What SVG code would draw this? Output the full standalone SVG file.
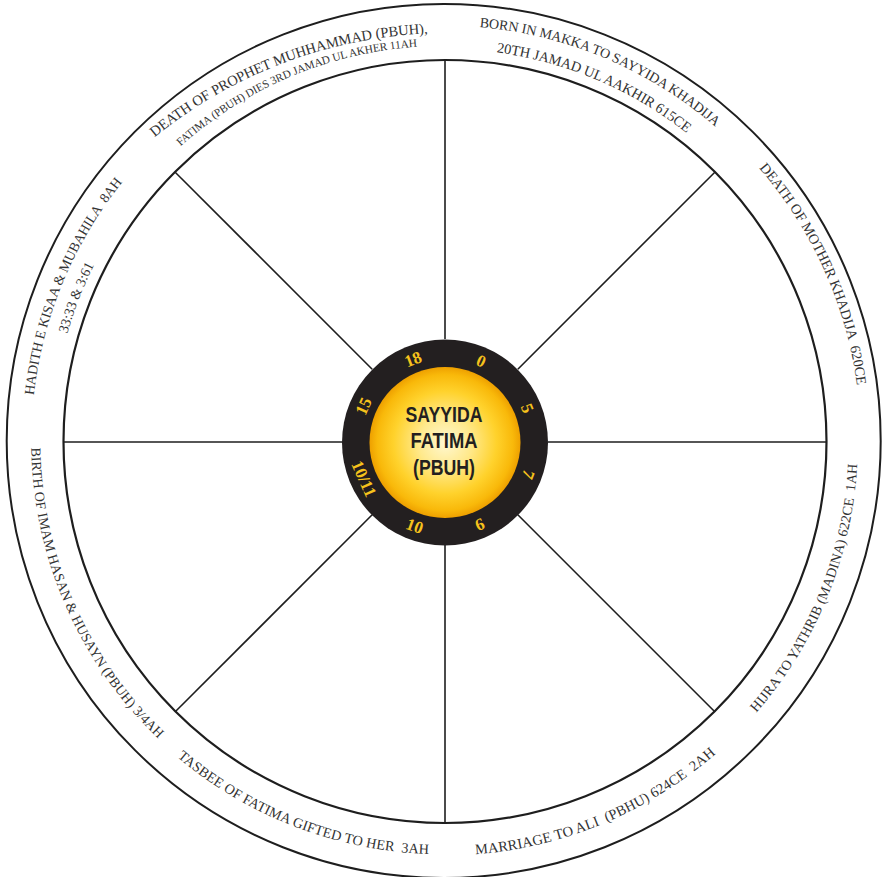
<svg xmlns="http://www.w3.org/2000/svg" xmlns:xlink="http://www.w3.org/1999/xlink" width="883" height="877" viewBox="0 0 883 877">
<style>
.ring{fill:none;stroke:#1e1e1e}
.spoke{stroke:#1e1e1e;stroke-width:1.6;fill:none}
.lbl{font-family:"Liberation Serif","Times New Roman",serif;fill:#333;dominant-baseline:central}
.num{font-family:"Liberation Serif","Times New Roman",serif;font-weight:bold;font-size:17px;fill:#f6c21c;text-anchor:middle;dominant-baseline:central}
.ctr{font-family:"Liberation Sans",Arial,sans-serif;font-weight:bold;font-size:21.5px;fill:#231f20;text-anchor:middle}
</style>
<defs>
<radialGradient id="gold" cx="50%" cy="50%" r="50%">
<stop offset="0%" stop-color="#fff8d2"/>
<stop offset="35%" stop-color="#ffe98c"/>
<stop offset="68%" stop-color="#ffd22c"/>
<stop offset="90%" stop-color="#f9b90a"/>
<stop offset="100%" stop-color="#eea000"/>
</radialGradient>
<path id="p1a" d="M66.3,223.8 A470,470 0 0 1 551.3,39.5"/>
<path id="p1b" d="M88.8,258.5 A399,399 0 0 1 561.7,59.7"/>
<path id="p2a" d="M320.1,39.1 A420.4,420.4 0 0 1 817.9,249.4"/>
<path id="p2b" d="M327.6,61.1 A397.2,397.2 0 0 1 797.6,260.6"/>
<path id="p3" d="M627,60.8 A422,422 0 0 1 849.9,555.4"/>
<path id="p4" d="M635.2,802.6 A409.2,409.2 0 0 0 833.1,315.1"/>
<path id="p5" d="M321.9,832 A409.6,409.6 0 0 0 807.7,628.7"/>
<path id="p6" d="M86.1,638.3 A408.4,408.4 0 0 0 576,827.3"/>
<path id="p7" d="M52.8,325.9 A407.5,407.5 0 0 0 262.5,805.9"/>
<path id="p8a" d="M45.4,565.7 A417.4,417.4 0 0 1 251.6,70.3"/>
<path id="p8b" d="M68.3,568 A396.3,396.3 0 0 1 253.4,93.3"/>
</defs>
<rect width="883" height="877" fill="#fff"/>
<g id="outer-ring">
<circle class="ring" cx="443.7" cy="440.9" r="437" stroke-width="2"/>
<circle class="ring" cx="445" cy="441.5" r="381.5" stroke-width="2.2"/>
</g>
<g id="connectors">
<line class="spoke" x1="445" y1="339" x2="445" y2="60.5"/>
<line class="spoke" x1="517.8" y1="369.2" x2="714.8" y2="172.2"/>
<line class="spoke" x1="548" y1="442" x2="826.5" y2="442"/>
<line class="spoke" x1="517.8" y1="514.8" x2="714.8" y2="711.8"/>
<line class="spoke" x1="445" y1="545" x2="445" y2="823.5"/>
<line class="spoke" x1="372.2" y1="514.8" x2="175.2" y2="711.8"/>
<line class="spoke" x1="342" y1="442" x2="63.5" y2="442"/>
<line class="spoke" x1="372.2" y1="369.2" x2="175.2" y2="172.2"/>
</g>
<g id="hub">
<circle cx="445" cy="442.5" r="103" fill="#231f20"/>
<circle cx="445" cy="442.5" r="75.5" fill="url(#gold)"/>
<text class="ctr" x="444" y="421.5" textLength="77" lengthAdjust="spacingAndGlyphs">SAYYIDA</text>
<text class="ctr" x="444" y="447.5" textLength="67" lengthAdjust="spacingAndGlyphs">FATIMA</text>
<text class="ctr" x="444" y="475" textLength="62" lengthAdjust="spacingAndGlyphs">(PBUH)</text>
</g>
<g id="hub-numbers">
<text class="num" x="445" y="353.5" transform="rotate(24 445 442.5)">0</text>
<text class="num" x="445" y="353.5" transform="rotate(67.5 445 442.5)">5</text>
<text class="num" x="445" y="353.5" transform="rotate(111 445 442.5)">7</text>
<text class="num" x="445" y="353.5" transform="rotate(157 445 442.5)">9</text>
<text class="num" x="445" y="531.5" transform="rotate(20 445 442.5)">10</text>
<text class="num" x="445" y="531.5" transform="rotate(66 445 442.5)">10/11</text>
<text class="num" x="445" y="353.5" transform="rotate(294 445 442.5)">15</text>
<text class="num" x="445" y="353.5" transform="rotate(339 445 442.5)">18</text>
</g>
<g id="event-death-prophet">
<text class="lbl" font-size="14.6" text-anchor="middle" xml:space="preserve"><textPath xlink:href="#p1a" href="#p1a" startOffset="50%">DEATH OF PROPHET MUHHAMMAD (PBUH),</textPath></text>
<text class="lbl" font-size="11.3" text-anchor="middle" xml:space="preserve"><textPath xlink:href="#p1b" href="#p1b" startOffset="50%">FATIMA (PBUH) DIES 3RD JAMAD UL AKHER 11AH</textPath></text>
</g>
<g id="event-born">
<text class="lbl" font-size="14" text-anchor="middle" xml:space="preserve"><textPath xlink:href="#p2a" href="#p2a" startOffset="50%">BORN IN MAKKA TO SAYYIDA KHADIJA</textPath></text>
<text class="lbl" font-size="14.4" text-anchor="middle" xml:space="preserve"><textPath xlink:href="#p2b" href="#p2b" startOffset="50%">20TH JAMAD UL AAKHIR 615CE</textPath></text>
</g>
<g id="event-death-mother">
<text class="lbl" font-size="14.3" text-anchor="middle" xml:space="preserve"><textPath xlink:href="#p3" href="#p3" startOffset="50%">DEATH OF MOTHER KHADIJA  620CE</textPath></text>
</g>
<g id="event-hijra">
<text class="lbl" font-size="14" text-anchor="middle" xml:space="preserve"><textPath xlink:href="#p4" href="#p4" startOffset="50%">HIJRA TO YATHRIB (MADINA) 622CE  1AH</textPath></text>
</g>
<g id="event-marriage">
<text class="lbl" font-size="14.5" text-anchor="middle" xml:space="preserve"><textPath xlink:href="#p5" href="#p5" startOffset="50%">MARRIAGE TO ALI  (PBHU) 624CE  2AH</textPath></text>
</g>
<g id="event-tasbee">
<text class="lbl" font-size="14.2" text-anchor="middle" xml:space="preserve"><textPath xlink:href="#p6" href="#p6" startOffset="50%">TASBEE OF FATIMA GIFTED TO HER  3AH</textPath></text>
</g>
<g id="event-birth-hasan-husayn">
<text class="lbl" font-size="13.9" text-anchor="middle" xml:space="preserve"><textPath xlink:href="#p7" href="#p7" startOffset="50%">BIRTH OF IMAM HASAN &amp; HUSAYN (PBUH) 3/4AH</textPath></text>
</g>
<g id="event-hadith-kisaa">
<text class="lbl" font-size="13.9" text-anchor="middle" xml:space="preserve"><textPath xlink:href="#p8a" href="#p8a" startOffset="50%">HADITH E KISAA &amp; MUBAHILA  8AH</textPath></text>
<text class="lbl" font-size="14" text-anchor="middle" xml:space="preserve"><textPath xlink:href="#p8b" href="#p8b" startOffset="50%">33:33 &amp; 3:61</textPath></text>
</g>
</svg>
